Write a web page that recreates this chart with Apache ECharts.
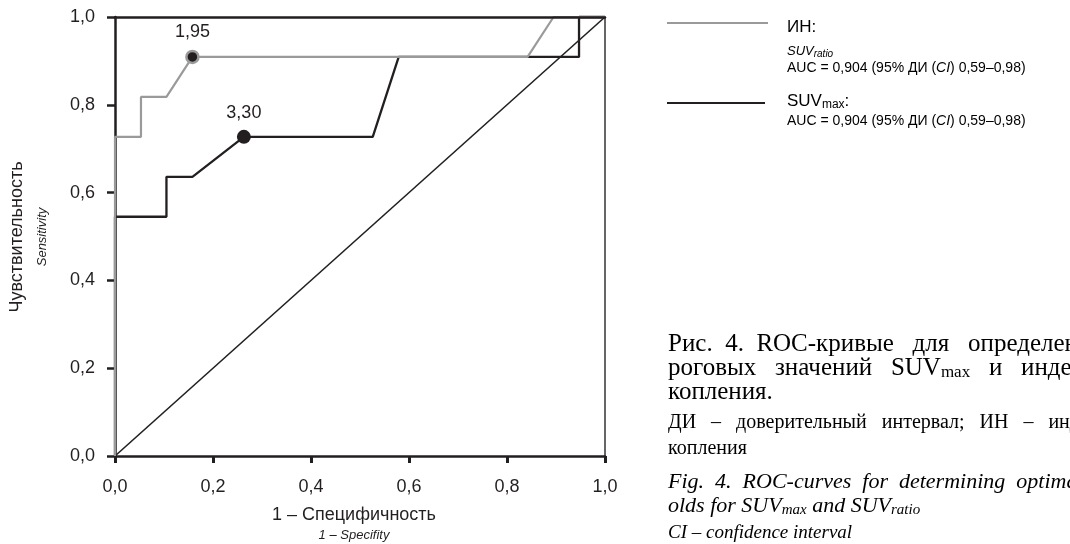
<!DOCTYPE html>
<html><head><meta charset="utf-8">
<script src="https://cdn.jsdelivr.net/npm/echarts@6/dist/echarts.min.js"></script>
<style>html,body{margin:0;padding:0;background:#fff}#c{width:1070px;height:544px}</style>
</head><body><div id="c"></div>
<script>
// ---- data ----
const xTicks = [0, 0.2, 0.4, 0.6, 0.8, 1.0];
const yTicks = [0, 0.2, 0.4, 0.6, 0.8, 1.0];
// ИН (SUVratio) ROC curve
const inX = [0, 0, 0.053, 0.053, 0.105, 0.158, 0.842, 0.895, 1];
const inY = [0, 0.727, 0.727, 0.818, 0.818, 0.909, 0.909, 1, 1];
// SUVmax ROC curve
const suvX = [0, 0, 0.105, 0.105, 0.158, 0.263, 0.526, 0.579, 0.947, 0.947, 1];
const suvY = [0, 0.545, 0.545, 0.636, 0.636, 0.727, 0.727, 0.909, 0.909, 1, 1];
// reference diagonal
const refX = [0, 1];
const refY = [0, 1];
// optimal cut-off points
const cutLabels = ['1,95', '3,30'];
const cutX = [0.158, 0.263];
const cutY = [0.909, 0.727];

const zip = (a, b) => a.map((v, i) => [v, b[i]]);
const fmt = v => v.toFixed(1).replace('.', ',');
const INK = '#231f20', GREY = '#9a9a9a';
const SANS = '"Liberation Sans", Arial, sans-serif';
const SERIF = '"Liberation Serif", "Times New Roman", serif';

const chart = echarts.init(document.getElementById('c'), null, {renderer: 'canvas'});

const grid = {left: 115, top: 17, width: 490, height: 439};

const serifRich = {
  m: {fontFamily: SERIF, fontSize: 25, lineHeight: 26, color: INK},
  ms: {fontFamily: SERIF, fontSize: 17, lineHeight: 12, verticalAlign: 'bottom', color: INK},
  d: {fontFamily: SERIF, fontSize: 20, lineHeight: 22, color: INK},
  i: {fontFamily: SERIF, fontStyle: 'italic', fontSize: 22, lineHeight: 24, color: INK},
  is: {fontFamily: SERIF, fontStyle: 'italic', fontSize: 15, lineHeight: 11, verticalAlign: 'bottom', color: INK},
  ci: {fontFamily: SERIF, fontStyle: 'italic', fontSize: 19, lineHeight: 22, color: INK}
};
function capText(x, y, text) {
  return {type: 'text', x: x, y: y, silent: true,
    style: {text: text, align: 'left', verticalAlign: 'middle', rich: serifRich}};
}
const legRich = {
  h: {fontFamily: SANS, fontSize: 17, lineHeight: 20, color: INK},
  hs: {fontFamily: SANS, fontSize: 12, lineHeight: 11, verticalAlign: 'bottom', color: INK},
  it: {fontFamily: SANS, fontStyle: 'italic', fontSize: 13, lineHeight: 16, color: INK},
  its: {fontFamily: SANS, fontStyle: 'italic', fontSize: 10, lineHeight: 9, verticalAlign: 'bottom', color: INK},
  a: {fontFamily: SANS, fontSize: 14, lineHeight: 16, color: INK},
  ai: {fontFamily: SANS, fontStyle: 'italic', fontSize: 14, lineHeight: 16, color: INK}
};
function legText(x, y, text) {
  return {type: 'text', x: x, y: y, silent: true,
    style: {text: text, align: 'left', verticalAlign: 'middle', rich: legRich}};
}

const option = {
  backgroundColor: '#fff',
  animation: false,
  grid: grid,
  xAxis: [{
    type: 'value', min: 0, max: 1, interval: 0.2, position: 'bottom',
    splitLine: {show: false},
    axisLine: {show: true, onZero: false, lineStyle: {color: INK, width: 2.5}},
    axisTick: {show: true, length: 7, lineStyle: {color: INK, width: 3}},
    axisLabel: {margin: 22, fontFamily: SANS, fontSize: 18, color: INK, formatter: fmt,
      customValues: xTicks}
  }, {
    type: 'value', min: 0, max: 1, position: 'top', gridIndex: 0, z: 10,
    splitLine: {show: false},
    axisLine: {show: true, onZero: false, lineStyle: {color: INK, width: 2.5}},
    axisTick: {show: false}, axisLabel: {show: false}
  }],
  yAxis: [{
    type: 'value', min: 0, max: 1, interval: 0.2, position: 'left',
    splitLine: {show: false},
    axisLine: {show: true, onZero: false, lineStyle: {color: INK, width: 2.5}},
    axisTick: {show: true, length: 8, lineStyle: {color: INK, width: 2.5}},
    axisLabel: {margin: 20, fontFamily: SANS, fontSize: 18, color: INK, formatter: fmt,
      customValues: yTicks}
  }, {
    type: 'value', min: 0, max: 1, position: 'right',
    splitLine: {show: false},
    axisLine: {show: true, onZero: false, lineStyle: {color: '#333', width: 1.5}},
    axisTick: {show: false}, axisLabel: {show: false}
  }],
  series: [
    {type: 'line', data: zip(refX, refY), symbol: 'none', clip: false,
      lineStyle: {color: INK, width: 1.6}, z: 2},
    {type: 'line', data: zip(suvX, suvY), symbol: 'none', clip: false,
      lineStyle: {color: INK, width: 2.3}, z: 3},
    {type: 'line', data: zip(inX, inY), symbol: 'none', clip: false,
      lineStyle: {color: GREY, width: 2.2}, z: 4},
    {type: 'scatter', data: [[cutX[0], cutY[0]]], symbolSize: 12, z: 5,
      itemStyle: {color: INK, borderColor: GREY, borderWidth: 2.5, opacity: 1},
      label: {show: true, position: 'top', distance: 9, formatter: cutLabels[0],
        fontFamily: SANS, fontSize: 18, color: INK}},
    {type: 'scatter', data: [[cutX[1], cutY[1]]], symbolSize: 14, z: 5,
      itemStyle: {color: INK, opacity: 1},
      label: {show: true, position: 'top', distance: 8, formatter: cutLabels[1],
        fontFamily: SANS, fontSize: 18, color: INK}}
  ],
  graphic: [
    // axis titles
    {type: 'text', x: 17, y: 237, rotation: Math.PI / 2, silent: true,
      style: {text: 'Чувствительность', align: 'center', verticalAlign: 'middle',
        font: '18px ' + SANS, fill: INK}},
    {type: 'text', x: 42, y: 237, rotation: Math.PI / 2, silent: true,
      style: {text: 'Sensitivity', align: 'center', verticalAlign: 'middle',
        font: 'italic 13px ' + SANS, fill: INK}},
    {type: 'text', x: 354, y: 515, silent: true,
      style: {text: '1 – Специфичность', align: 'center', verticalAlign: 'middle',
        font: '18px ' + SANS, fill: INK}},
    {type: 'text', x: 354, y: 535, silent: true,
      style: {text: '1 – Specifity', align: 'center', verticalAlign: 'middle',
        font: 'italic 13px ' + SANS, fill: INK}},
    // legend
    {type: 'line', silent: true, shape: {x1: 667, y1: 23, x2: 768, y2: 23},
      style: {stroke: GREY, lineWidth: 2.2}},
    legText(787, 27, '{h|ИН:}'),
    legText(787, 51, '{it|SUV}{its|ratio}'),
    legText(787, 68, '{a|AUC = 0,904 (95% ДИ (}{ai|CI}{a|) 0,59–0,98)}'),
    {type: 'line', silent: true, shape: {x1: 667, y1: 103, x2: 765, y2: 103},
      style: {stroke: INK, lineWidth: 2.2}},
    legText(787, 101, '{h|SUV}{hs|max}{h|:}'),
    legText(787, 121, '{a|AUC = 0,904 (95% ДИ (}{ai|CI}{a|) 0,59–0,98)}'),
    // caption
    capText(668, 344, '{m|Рис.  4.  ROC-кривые   для   определения  по-}'),
    capText(668, 368, '{m|роговых   значений   SUV}{ms|max}{m|   и   индекса  на-}'),
    capText(668, 392, '{m|копления.}'),
    capText(668, 423, '{d|ДИ   –   доверительный   интервал;   ИН   –   индекс   на-}'),
    capText(668, 449, '{d|копления}'),
    capText(668, 482, '{i|Fig.  4.  ROC-curves  for  determining  optimal  thresh-}'),
    capText(668, 506, '{i|olds for SUV}{is|max}{i| and SUV}{is|ratio}'),
    capText(668, 533, '{ci|CI – confidence interval}')
  ]
};
chart.setOption(option);
</script>
</body></html>
